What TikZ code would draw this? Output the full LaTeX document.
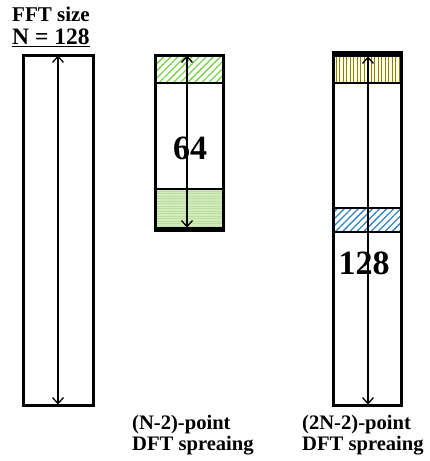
\documentclass[tikz,border=0pt]{standalone}
\usepackage{fontspec}
\setmainfont{Liberation Serif}
\usetikzlibrary{arrows.meta,patterns.meta}
\begin{document}
\begin{tikzpicture}[x=1pt,y=-1pt,
  frame/.style={draw=black,line width=3pt,fill=none},
  sep/.style={draw=black,line width=2pt},
  span/.style={{Straight Barb[length=6pt,width=11pt,line width=1.3pt]}-{Straight Barb[length=6pt,width=11pt,line width=1.3pt]},line width=1.3pt},
  lbl/.style={font=\bfseries\fontsize{20.6}{22}\selectfont,inner sep=0pt,anchor=west},
  big/.style={font=\bfseries\fontsize{34}{36}\selectfont,inner sep=0pt}]
\useasboundingbox (0,0) rectangle (429,461);

% headings
\node[lbl,font=\bfseries\fontsize{21}{23}\selectfont] (fft) at (12,14) {FFT size};
\node[lbl,font=\bfseries\fontsize{23.5}{25}\selectfont] (nsz) at (12,38) {\underline{N = 128}};

% full-length FFT column
\node[frame,minimum width=70pt,minimum height=350pt,inner sep=0pt] (L) at (58,230) {};
\draw[span] ([yshift=-2pt]L.north) -- ([yshift=2pt]L.south);

% (N-2)-point column
\fill[pattern={Lines[angle=45,distance=5pt,line width=1.3pt]},pattern color=green!50!olive!70] (155,55) rectangle (223,83);
\fill[green!40!olive!25] (155,189) rectangle (223,228);
\fill[pattern={Lines[angle=0,distance=2.5pt,line width=0.4pt]},pattern color=green!30!olive!40] (155,189) rectangle (223,228);
\draw[sep] (155,83) -- (223,83);
\draw[sep] (155,189) -- (223,189);
\node[frame,minimum width=68pt,minimum height=173pt,inner sep=0pt] (M) at (189,141.5) {};
\draw[line width=4pt] (M.south west) -- (M.south east);
\node[big] (m64) at (190,148) {64};
\draw[span] ([xshift=-2pt,yshift=-2pt]M.north) -- ([xshift=-2pt,yshift=2pt]M.south);

% (2N-2)-point column
\fill[yellow!8] (333,55) rectangle (401,83);
\fill[pattern={Lines[angle=90,distance=3.5pt,line width=0.8pt]},pattern color=olive!75!brown] (333,55) rectangle (401,83);
\fill[pattern={Lines[angle=45,distance=5pt,line width=1.3pt]},pattern color=blue!45!cyan!70!black!80] (333,208) rectangle (401,232);
\draw[sep] (333,83) -- (401,83);
\draw[sep] (333,208) -- (401,208);
\draw[sep] (333,232) -- (401,232);
\node[frame,minimum width=68pt,minimum height=350pt,inner sep=0pt] (R) at (367,230) {};
\draw[line width=4.5pt] (R.north west) -- (R.north east);
\node[big] (r128) at (364,263) {128};
\draw[span] ([xshift=1pt,yshift=-3pt]R.north) -- ([xshift=1pt,yshift=2pt]R.south);

% captions
\node[lbl] (c1a) at (132,425) {(N-2)-point};
\node[lbl] (c1b) at (132,446) {DFT spreaing};
\node[lbl] (c2a) at (302,425) {(2N-2)-point};
\node[lbl] (c2b) at (302,446) {DFT spreaing};
\end{tikzpicture}
\end{document}
